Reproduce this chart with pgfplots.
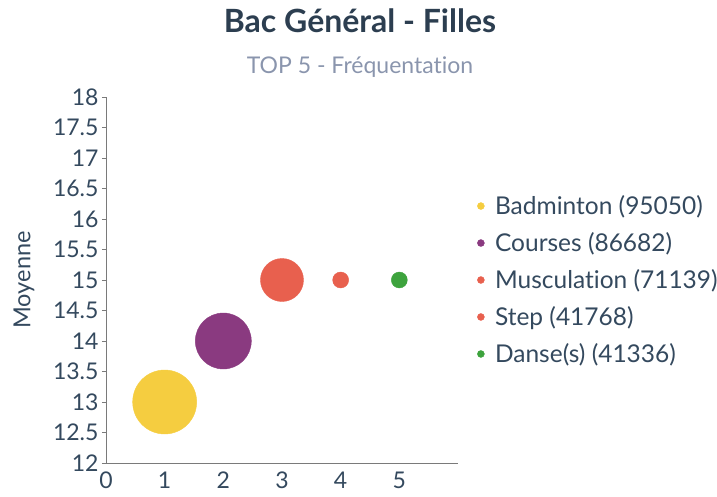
\documentclass[border=0pt]{standalone}
\usepackage{fontspec}
\setmainfont{Lato}[Ligatures={NoCommon}]
\usepackage{pgfplots}
\pgfplotsset{compat=1.18}
\definecolor{yel}{HTML}{F5CD40}
\definecolor{pur}{HTML}{8A3A80}
\definecolor{redc}{HTML}{E8604E}
\definecolor{grn}{HTML}{3DA33D}
\definecolor{txt}{HTML}{34495E}
\definecolor{ttl}{HTML}{2C3E50}
\definecolor{sub}{HTML}{8A95AD}
\definecolor{axc}{HTML}{7A7A7A}
\begin{document}
\begin{tikzpicture}
\useasboundingbox (-106bp,-34bp) rectangle (611bp,463bp);
\begin{axis}[
  at={(0,0)}, anchor=south west,
  width=352bp, height=366bp, scale only axis,
  xmin=0, xmax=6, ymin=12, ymax=18,
  xtick={0,1,2,3,4,5},
  ytick={12,12.5,13,13.5,14,14.5,15,15.5,16,16.5,17,17.5,18},
  axis x line*=bottom, axis y line*=left,
  axis line style={draw=axc, line width=1bp, -},
  xtick style={draw=none},
  ytick style={draw=axc, line width=0.8bp},
  tick align=outside, major tick length=4bp,
  /pgf/number format/assume math mode=true,
  tick label style={font=\fontsize{23bp}{27bp}\selectfont, text=txt},
  yticklabel style={xshift=0bp},
  xticklabel style={yshift=-1bp},
  clip=false,
  legend image code/.code={\fill[#1] (0bp,0bp) circle (3.5bp); \path (12bp,0bp);},
  legend style={at={(rel axis cs:1,0.5)}, anchor=west, xshift=16bp,
    draw=none, fill=none, font=\fontsize{24.5bp}{28bp}\selectfont,
    text=txt, row sep=12.5bp},
  legend cell align=left,
]
\addplot[only marks, mark=*, mark size=32bp, color=yel, forget plot] coordinates {(1,13)};
\addplot[only marks, mark=*, mark size=28bp, color=pur, forget plot] coordinates {(2,14)};
\addplot[only marks, mark=*, mark size=21.5bp, color=redc, forget plot] coordinates {(3,15)};
\addplot[only marks, mark=*, mark size=8bp, color=redc, forget plot] coordinates {(4,15)};
\addplot[only marks, mark=*, mark size=8bp, color=grn, forget plot] coordinates {(5,15)};
\addlegendimage{yel}
\addlegendentry{Badminton (95050)}
\addlegendimage{pur}
\addlegendentry{Courses (86682)}
\addlegendimage{redc}
\addlegendentry{Musculation (71139)}
\addlegendimage{redc}
\addlegendentry{Step (41768)}
\addlegendimage{grn}
\addlegendentry{Danse(s) (41336)}
\end{axis}
\node[rotate=90, anchor=center, text=txt, font=\fontsize{23.5bp}{27bp}\selectfont] at (-82bp,183bp) {Moyenne};
\node[anchor=base, text=ttl, font=\fontsize{32bp}{36bp}\selectfont\bfseries] at (254bp,430bp) {Bac Général - Filles};
\node[anchor=base, text=sub, font=\fontsize{23bp}{27bp}\selectfont] at (254bp,389bp) {TOP 5 - Fréquentation};
\end{tikzpicture}
\end{document}
